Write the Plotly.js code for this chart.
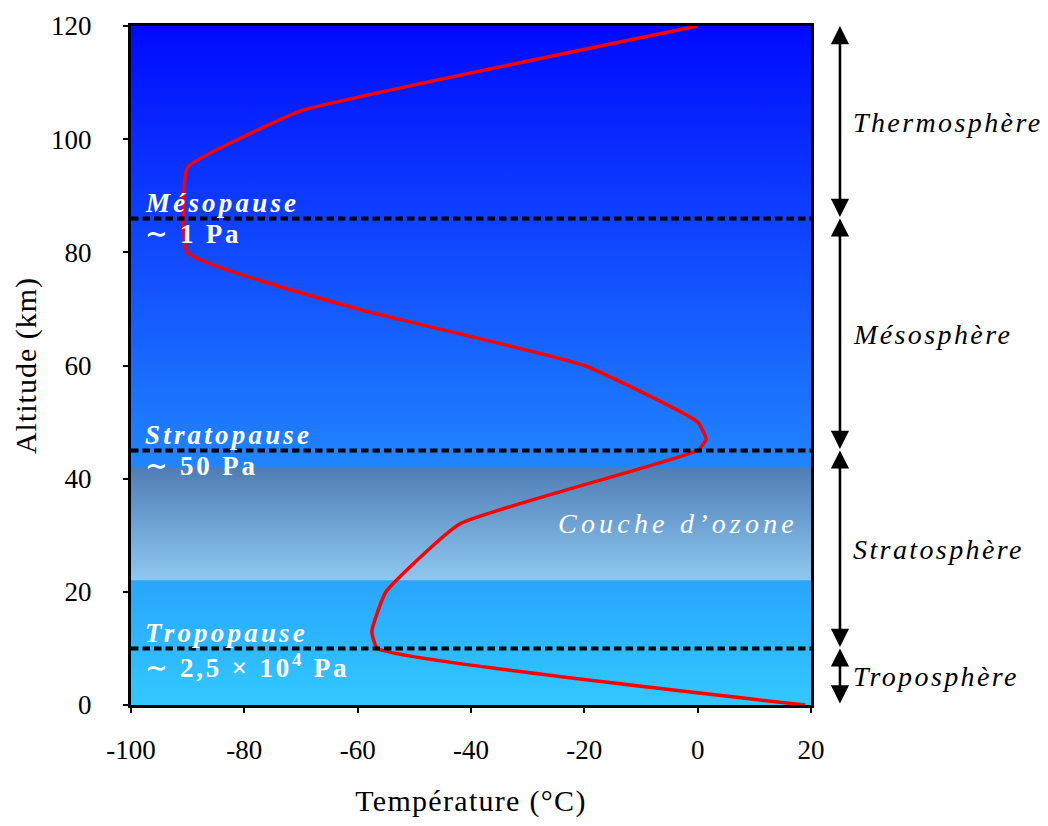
<!DOCTYPE html>
<html>
<head>
<meta charset="utf-8">
<script src="https://cdn.plot.ly/plotly-3.0.1.min.js"></script>
<style>
  html, body { margin: 0; padding: 0; background: #ffffff; }
  #chart { width: 1048px; height: 826px; }
</style>
</head>
<body>
<div id="chart"></div>
<script>
// ---- Data ----
const altitude    = [0, 10, 13, 20, 32, 45, 47, 50, 60, 70, 80, 95, 100.5, 105, 120];
const temperature = [19, -56.5, -57.5, -55, -42, 0, 1.5, 0, -20, -60, -90, -90, -80, -70, 0];

const pauseNames     = ["Tropopause", "Stratopause", "Mésopause"];
const pauseAltitudes = [10, 45, 86];
const pausePressures = ["∼ 2,5 × 10<sup>4</sup> Pa", "∼ 50 Pa", "∼ 1 Pa"];

const layerNames  = ["Troposphère", "Stratosphère", "Mésosphère", "Thermosphère"];
const layerBounds = [0, 10, 45, 86, 120];

const ozoneLabel  = "Couche d’ozone";
const ozoneBottom = 22;
const ozoneTop    = 42;

const xTickVals = [-100, -80, -60, -40, -20, 0, 20];
const xTickText = ["-100", "-80", "-60", "-40", "-20", "0", "20"];
const yTickVals = [0, 20, 40, 60, 80, 100, 120];

const xRange = [-100, 20];
const yRange = [0, 120];

// ---- Styling ----
const FONT = "'Liberation Serif', 'DejaVu Serif', serif";

function spaced(txt, px) {
  return '<span style="letter-spacing:' + px + 'px">' + txt + '</span>';
}

function gradientSVG(topColor, bottomColor) {
  const svg = '<svg xmlns="http://www.w3.org/2000/svg" width="100" height="100" viewBox="0 0 100 100" preserveAspectRatio="none">' +
    '<defs><linearGradient id="g" x1="0" y1="0" x2="0" y2="1">' +
    '<stop offset="0" stop-color="' + topColor + '"/>' +
    '<stop offset="1" stop-color="' + bottomColor + '"/>' +
    '</linearGradient></defs><rect x="0" y="0" width="100" height="100" fill="url(#g)"/></svg>';
  return 'data:image/svg+xml;charset=utf-8,' + encodeURIComponent(svg);
}

const traces = [{
  type: 'scatter',
  mode: 'lines',
  x: temperature,
  y: altitude,
  line: { color: '#ff0000', width: 3.5, shape: 'spline', smoothing: 0.4 },
  hoverinfo: 'skip',
  showlegend: false,
  cliponaxis: true
}];

const shapes = pauseAltitudes.map(a => ({
  type: 'line', xref: 'paper', yref: 'y',
  x0: 0, x1: 1, y0: a, y1: a,
  line: { color: '#000000', width: 4, dash: '7.5px,4px' },
  layer: 'above'
}));

const annotations = [];

// pause labels
pauseAltitudes.forEach((a, i) => {
  annotations.push({
    xref: 'paper', yref: 'y', x: 0.018, y: a,
    xanchor: 'left', yanchor: 'bottom', yshift: -2,
    text: spaced(pauseNames[i], 3.2), showarrow: false,
    font: { family: FONT, size: 27, color: '#ffffff', style: 'italic', weight: 'bold' }
  });
  annotations.push({
    xref: 'paper', yref: 'y', x: 0.018, y: a,
    xanchor: 'left', yanchor: 'top', yshift: 1,
    text: spaced(pausePressures[i], 2.8), showarrow: false,
    font: { family: FONT, size: 27, color: '#ffffff', weight: 'bold' }
  });
});

// ozone label
annotations.push({
  xref: 'x', yref: 'y', x: -3.5, y: (ozoneBottom + ozoneTop) / 2,
  xanchor: 'center', yanchor: 'middle',
  text: spaced(ozoneLabel, 4.2), showarrow: false,
  font: { family: FONT, size: 28, color: '#ffffff', style: 'italic' }
});

// layer arrows and names
for (let i = 0; i < layerNames.length; i++) {
  const lo = layerBounds[i], hi = layerBounds[i + 1];
  annotations.push({
    xref: 'paper', yref: 'y', x: 1.0426, y: hi,
    axref: 'pixel', ayref: 'y', ax: 0, ay: lo,
    showarrow: true, arrowside: 'end+start', arrowhead: 2,
    arrowsize: 1.4, arrowwidth: 2.6, arrowcolor: '#000000',
    standoff: 0, startstandoff: 0, text: ''
  });
  annotations.push({
    xref: 'paper', yref: 'y', x: 1.059, y: (lo + hi) / 2,
    xanchor: 'left', yanchor: 'middle',
    text: spaced(layerNames[i], 2.4), showarrow: false,
    font: { family: FONT, size: 28, color: '#000000', style: 'italic' }
  });
}

const images = [
  {
    source: gradientSVG('#000aff', '#32c8ff'),
    xref: 'x', yref: 'y', x: xRange[0], y: yRange[1],
    sizex: xRange[1] - xRange[0], sizey: yRange[1] - yRange[0],
    sizing: 'stretch', xanchor: 'left', yanchor: 'top', layer: 'below'
  },
  {
    source: gradientSVG('#4f7db6', '#8ec8f0'),
    xref: 'x', yref: 'y', x: xRange[0], y: ozoneTop,
    sizex: xRange[1] - xRange[0], sizey: ozoneTop - ozoneBottom,
    sizing: 'stretch', xanchor: 'left', yanchor: 'top', layer: 'below'
  }
];

const layout = {
  width: 1048, height: 826,
  margin: { l: 131, r: 237, t: 26, b: 121, pad: 0 },
  paper_bgcolor: '#ffffff',
  plot_bgcolor: '#ffffff',
  font: { family: FONT, size: 22, color: '#000000' },
  showlegend: false,
  xaxis: {
    range: xRange, tickvals: xTickVals, ticktext: xTickText,
    showgrid: false, zeroline: false,
    showline: true, linecolor: '#000000', linewidth: 3, mirror: true,
    ticks: 'outside', ticklen: 5, tickwidth: 2, tickcolor: '#000000',
    ticklabelstandoff: 14,
    tickfont: { family: FONT, size: 27, color: '#000000' },
    title: { text: spaced('Température (°C)', 1.3), font: { family: FONT, size: 30, color: '#000000' }, standoff: 26 },
    fixedrange: true
  },
  yaxis: {
    range: yRange, tickvals: yTickVals,
    showgrid: false, zeroline: false,
    showline: true, linecolor: '#000000', linewidth: 3, mirror: true,
    ticks: 'outside', ticklen: 5, tickwidth: 2, tickcolor: '#000000',
    ticklabelstandoff: 26,
    tickfont: { family: FONT, size: 27, color: '#000000' },
    title: { text: spaced('Altitude (km)', 1), font: { family: FONT, size: 30, color: '#000000' }, standoff: 6 },
    fixedrange: true
  },
  shapes: shapes,
  annotations: annotations,
  images: images
};

Plotly.newPlot('chart', traces, layout, { displayModeBar: false, staticPlot: true });
</script>
</body>
</html>
